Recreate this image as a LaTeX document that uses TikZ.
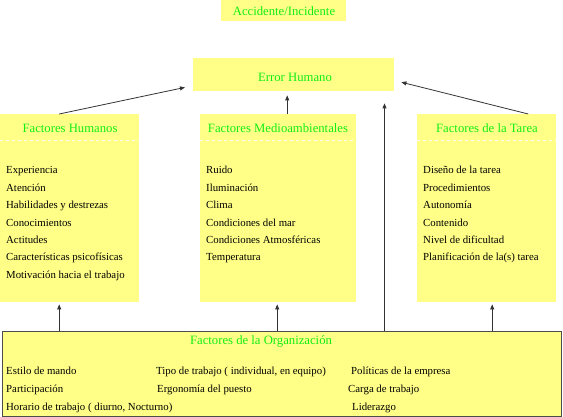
\documentclass[tikz,border=0pt]{standalone}
\usepackage{fontspec}
\setmainfont{Liberation Serif}
\usepackage{tikz}
\usetikzlibrary{arrows.meta, calc}
\definecolor{panel}{HTML}{FFFF88}
\definecolor{headtxt}{HTML}{11EE11}
\definecolor{wire}{HTML}{333333}

\begin{document}
\begin{tikzpicture}[
  x=1pt, y=-1pt,
  box/.style={fill=panel, inner sep=0pt, anchor=north west},
  head/.style={font=\fontsize{12.7}{15}\selectfont, text=headtxt, inner sep=0pt},
  item/.style={font=\fontsize{10.8}{13}\selectfont, anchor=west, inner sep=0pt,
               text height=7.5pt, text depth=2.5pt},
  sep/.style={white, dashed, thin},
  arr/.style={-{Triangle[length=5pt, width=4pt]}, wire, line width=0.8pt},
]
\useasboundingbox (0,0) rectangle (563,417);

% top boxes
\node[box, minimum width=125pt, minimum height=21pt] (acc) at (221,0) {};
\node[head] (acct) at (284,11) {Accidente/Incidente};
\node[box, minimum width=201pt, minimum height=33pt] (err) at (193,58) {};
\node[head] (errt) at (295,77) {Error Humano};

% factor columns
\node[box, minimum width=139pt, minimum height=188pt] (hum) at (0,114) {};
\node[box, minimum width=156pt, minimum height=188pt] (med) at (200,114) {};
\node[box, minimum width=139pt, minimum height=188pt] (tar) at (417,114) {};
\draw[sep] ($(hum.north west)+(0,26)$) -- ($(hum.north east)+(0,26)$);
\draw[sep] ($(med.north west)+(0,26)$) -- ($(med.north east)+(0,26)$);
\draw[sep] ($(tar.north west)+(0,26)$) -- ($(tar.north east)+(0,26)$);

\node[head] (humt) at (70,128) {Factores Humanos};
\node[head] (medt) at (278,128) {Factores Medioambientales};
\node[head] (tart) at (487,128) {Factores de la Tarea};

\node[item] (h1) at (6,171) {Experiencia};
\node[item] (h2) at (6,189) {Atención};
\node[item] (h3) at (6,206) {Habilidades y destrezas};
\node[item] (h4) at (6,224) {Conocimientos};
\node[item] (h5) at (6,241) {Actitudes};
\node[item] (h6) at (6,258) {Características psicofísicas};
\node[item] (h7) at (6,276) {Motivación hacia el trabajo};

\node[item] (m1) at (206,171) {Ruido};
\node[item] (m2) at (206,189) {Iluminación};
\node[item] (m3) at (206,206) {Clima};
\node[item] (m4) at (206,224) {Condiciones del mar};
\node[item] (m5) at (206,241) {Condiciones Atmosféricas};
\node[item] (m6) at (206,258) {Temperatura};

\node[item] (t1) at (423,171) {Diseño de la tarea};
\node[item] (t2) at (423,189) {Procedimientos};
\node[item] (t3) at (423,206) {Autonomía};
\node[item] (t4) at (423,224) {Contenido};
\node[item] (t5) at (423,241) {Nivel de dificultad};
\node[item] (t6) at (423,258) {Planificación de la(s) tarea};

% organisation
\node[box, draw=gray!60!black, line width=1pt, minimum width=559pt,
      minimum height=85pt] (org) at (2,331) {};
\node[head] (orgt) at (261,341) {Factores de la Organización};
\node[item] (o1) at (6,372) {Estilo de mando};
\node[item] (o2) at (6,390) {Participación};
\node[item] (o3) at (6,408) {Horario de trabajo ( diurno, Nocturno)};
\node[item] (o4) at (156,372) {Tipo de trabajo ( individual, en equipo)};
\node[item] (o5) at (157,390) {Ergonomía del puesto};
\node[item] (o6) at (351,372) {Políticas de la empresa};
\node[item] (o7) at (348,390) {Carga de trabajo};
\node[item] (o8) at (352,408) {Liderazgo};

% arrows
\coordinate (hb) at ($(hum.south)+(-10.5,2)$);
\coordinate (mb) at ($(med.south)+(-1,2)$);
\coordinate (tb) at ($(tar.south)+(5.5,2)$);
\coordinate (mup) at ($(med.north)+(9,0)$);
\coordinate (oup) at ($(org.north)+(102.5,0)$);
\draw[arr] ($(hum.north)+(-10.5,0)$) -- ($(err.south west)+(-8,-4)$);
\draw[arr] ($(tar.north)+(41.5,0)$) -- ($(err.east)+(7,7.5)$);
\draw[arr] (mup) -- ($(mup |- err.south)+(0,4)$);
\draw[arr] (oup) -- ($(oup |- err.south)+(0,12)$);
\draw[arr] (hb |- org.north) -- (hb);
\draw[arr] (mb |- org.north) -- (mb);
\draw[arr] (tb |- org.north) -- (tb);

\end{tikzpicture}
\end{document}
